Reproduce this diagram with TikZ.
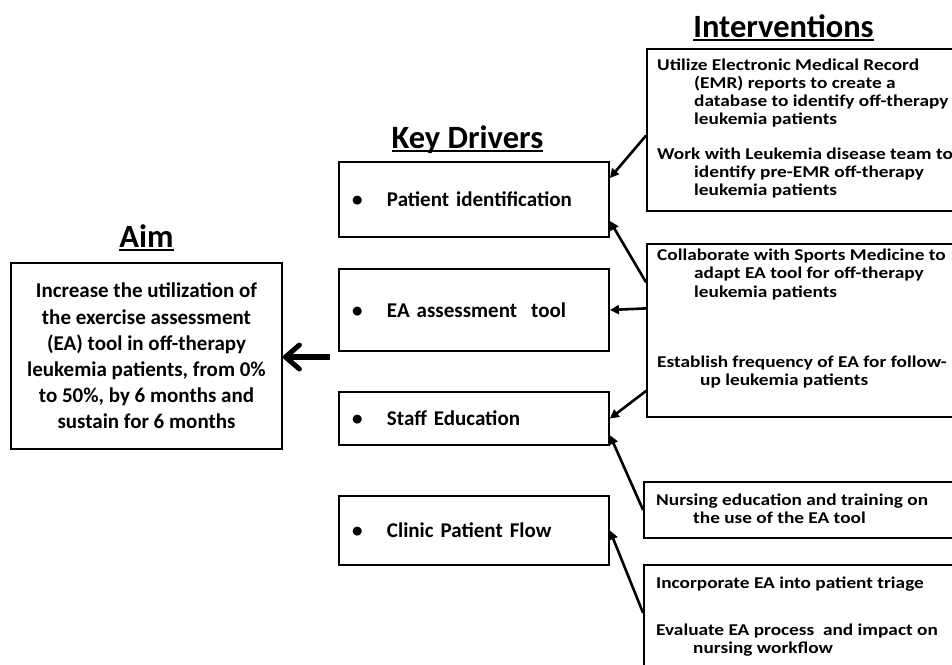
\documentclass[tikz,border=0pt]{standalone}
\usepackage{fontspec}
\setmainfont{Carlito}
\newfontfamily\widefont{Carlito}[FakeStretch=1.17]
\usetikzlibrary{arrows.meta}

% underlined column heading
\newcommand{\ulhead}[1]{\setbox0\hbox{#1}\rlap{\rule[-4pt]{\wd0}{1.6pt}}\box0}
\newcommand{\drv}[1]{\makebox[35pt][l]{\textbullet}#1}

\tikzset{
  heading/.style={anchor=base, inner sep=0pt, font=\bfseries\fontsize{32.5}{36}\selectfont},
  aimbox/.style={draw, line width=1.8pt, minimum width=271pt, minimum height=186pt,
    align=center, font=\bfseries\fontsize{21}{26.2}\selectfont},
  driverbox/.style={draw, line width=1.8pt, text width=244pt, inner xsep=13pt,
    align=left, font=\bfseries\fontsize{21}{25}\selectfont},
  actionbox/.style={draw, line width=1.8pt, minimum width=313pt},
  % multi-line text: placed at the baseline of its last line
  action/.style={anchor=base west, align=left, inner sep=0pt,
    font=\widefont\bfseries\fontsize{16.5}{18.3}\selectfont},
  link/.style={-{Triangle[length=9pt,width=9pt]}, line width=2.6pt},
  bigarrow/.style={-{Straight Barb[length=14pt,width=24pt,line width=5pt,round]}, line width=5.5pt}
}

\begin{document}
\begin{tikzpicture}[x=1pt,y=-1pt]
  \clip (0,0) rectangle (952,664);

  % headings
  \node[heading] (haim) at (146.5,247) {\ulhead{Aim}};
  \node[heading] (hdrv) at (467.5,148) {\ulhead{Key Drivers}};
  \node[heading] (hint) at (783.5,37)  {\ulhead{Interventions}};

  % aim
  \node[aimbox] (aim) at (146.5,356) {Increase the utilization of\\
    the exercise assessment\\ (EA) tool in off-therapy\\
    leukemia patients, from 0\%\\ to 50\%, by 6 months and\\ sustain for 6 months};

  % key drivers
  \node[driverbox, minimum height=75pt] (kd1) at (474,199.5) {\drv{Patient identification}};
  \node[driverbox, minimum height=82pt] (kd2) at (474,310)   {\drv{EA assessment\ \ tool}};
  \node[driverbox, minimum height=53pt] (kd3) at (474,418.5) {\drv{Staff Education}};
  \node[driverbox, minimum height=69pt] (kd4) at (474,530.5) {\drv{Clinic Patient Flow}};

  % interventions
  \node[actionbox, minimum height=162pt] (in1) at (803.5,130) {};
  \node[actionbox, minimum height=173pt] (in2) at (803.5,330.5) {};
  \node[actionbox, minimum width=316pt, minimum height=56pt]  (in3) at (802,510) {};
  \node[actionbox, minimum width=316pt, minimum height=135pt] (in4) at (802,632.5) {};

  \node[action] (t1a) at (657,124.9) {Utilize Electronic Medical Record\\
    \hspace*{37pt}(EMR) reports to create a\\
    \hspace*{37pt}database to identify off-therapy\\
    \hspace*{37pt}leukemia patients};
  \node[action] (t1b) at (657,195.6) {Work with Leukemia disease team to\\
    \hspace*{37pt}identify pre-EMR off-therapy\\
    \hspace*{37pt}leukemia patients};
  \node[action] (t2a) at (657,297.1) {Collaborate with Sports Medicine to\\
    \hspace*{37pt}adapt EA tool for off-therapy\\
    \hspace*{37pt}leukemia patients};
  \node[action] (t2b) at (657,385.3) {Establish frequency of EA for follow-\\
    \hspace*{43pt}up leukemia patients};
  \node[action] (t3a) at (656,523.3) {Nursing education and training on\\
    \hspace*{37pt}the use of the EA tool};
  \node[action] (t4a) at (656,588)   {Incorporate EA into patient triage};
  \node[action] (t4b) at (656,653.3) {Evaluate EA process\ \ and impact on\\
    \hspace*{37pt}nursing workflow};

  % arrows
  \draw[link] (in1.182.6) -- (kd1.9.5);
  \draw[link] (in2.163.1) -- (kd1.-9.9);
  \draw[link] (in2.172.9) -- (kd2.east);
  \draw[link] (in2.201.5) -- (kd3.east);
  \draw[link] (in3.west)  -- (kd3.-7.8);
  \draw[link] (in4.173.7) -- (kd4.east);

  \coordinate (feed) at (330,357);
  \draw[bigarrow] (feed) -- (aim.east |- feed);
\end{tikzpicture}
\end{document}
